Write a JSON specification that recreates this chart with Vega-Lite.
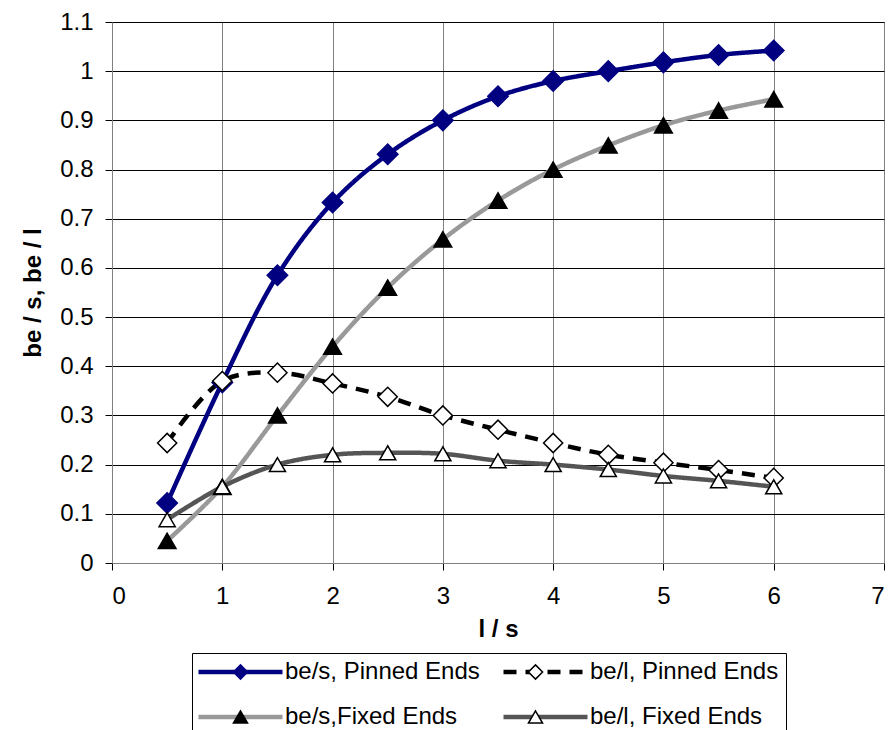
{
  "$schema": "https://vega.github.io/schema/vega-lite/v6.json",
  "autosize": {"type": "none"},
  "width": 772,
  "height": 541,
  "padding": {"left": 112, "top": 22, "right": 9, "bottom": 167},
  "background": "white",
  "config": {
    "font": "Liberation Sans",
    "view": {"stroke": "#808080", "strokeWidth": 1},
    "axis": {"labelFont": "Liberation Sans", "titleFont": "Liberation Sans", "labelFontSize": 24, "titleFontSize": 24, "titleFontWeight": "bold", "labelColor": "black", "titleColor": "black", "domainColor": "#808080", "tickColor": "black", "tickSize": 7}
  },
  "resolve": {"legend": {"shape": "independent", "fill": "independent", "stroke": "independent"}},
  "data": {"values": [
    {"l": 0.5, "v": 0.122, "series": "be/s, Pinned Ends", "k": 1},
    {"l": 1, "v": 0.367, "series": "be/s, Pinned Ends", "k": 1},
    {"l": 1.5, "v": 0.585, "series": "be/s, Pinned Ends", "k": 1},
    {"l": 2, "v": 0.733, "series": "be/s, Pinned Ends", "k": 1},
    {"l": 2.5, "v": 0.831, "series": "be/s, Pinned Ends", "k": 1},
    {"l": 3, "v": 0.9, "series": "be/s, Pinned Ends", "k": 1},
    {"l": 3.5, "v": 0.949, "series": "be/s, Pinned Ends", "k": 1},
    {"l": 4, "v": 0.98, "series": "be/s, Pinned Ends", "k": 1},
    {"l": 4.5, "v": 1.0, "series": "be/s, Pinned Ends", "k": 1},
    {"l": 5, "v": 1.018, "series": "be/s, Pinned Ends", "k": 1},
    {"l": 5.5, "v": 1.033, "series": "be/s, Pinned Ends", "k": 1},
    {"l": 6, "v": 1.042, "series": "be/s, Pinned Ends", "k": 1},
    {"l": 0.5, "v": 0.244, "series": "be/l, Pinned Ends", "k": 2},
    {"l": 1, "v": 0.37, "series": "be/l, Pinned Ends", "k": 2},
    {"l": 1.5, "v": 0.387, "series": "be/l, Pinned Ends", "k": 2},
    {"l": 2, "v": 0.365, "series": "be/l, Pinned Ends", "k": 2},
    {"l": 2.5, "v": 0.338, "series": "be/l, Pinned Ends", "k": 2},
    {"l": 3, "v": 0.3, "series": "be/l, Pinned Ends", "k": 2},
    {"l": 3.5, "v": 0.271, "series": "be/l, Pinned Ends", "k": 2},
    {"l": 4, "v": 0.244, "series": "be/l, Pinned Ends", "k": 2},
    {"l": 4.5, "v": 0.22, "series": "be/l, Pinned Ends", "k": 2},
    {"l": 5, "v": 0.204, "series": "be/l, Pinned Ends", "k": 2},
    {"l": 5.5, "v": 0.189, "series": "be/l, Pinned Ends", "k": 2},
    {"l": 6, "v": 0.173, "series": "be/l, Pinned Ends", "k": 2},
    {"l": 0.5, "v": 0.045, "series": "be/s,Fixed Ends", "k": 3},
    {"l": 1, "v": 0.155, "series": "be/s,Fixed Ends", "k": 3},
    {"l": 1.5, "v": 0.3, "series": "be/s,Fixed Ends", "k": 3},
    {"l": 2, "v": 0.44, "series": "be/s,Fixed Ends", "k": 3},
    {"l": 2.5, "v": 0.56, "series": "be/s,Fixed Ends", "k": 3},
    {"l": 3, "v": 0.658, "series": "be/s,Fixed Ends", "k": 3},
    {"l": 3.5, "v": 0.737, "series": "be/s,Fixed Ends", "k": 3},
    {"l": 4, "v": 0.8, "series": "be/s,Fixed Ends", "k": 3},
    {"l": 4.5, "v": 0.849, "series": "be/s,Fixed Ends", "k": 3},
    {"l": 5, "v": 0.89, "series": "be/s,Fixed Ends", "k": 3},
    {"l": 5.5, "v": 0.92, "series": "be/s,Fixed Ends", "k": 3},
    {"l": 6, "v": 0.943, "series": "be/s,Fixed Ends", "k": 3},
    {"l": 0.5, "v": 0.088, "series": "be/l, Fixed Ends", "k": 4},
    {"l": 1, "v": 0.155, "series": "be/l, Fixed Ends", "k": 4},
    {"l": 1.5, "v": 0.2, "series": "be/l, Fixed Ends", "k": 4},
    {"l": 2, "v": 0.22, "series": "be/l, Fixed Ends", "k": 4},
    {"l": 2.5, "v": 0.224, "series": "be/l, Fixed Ends", "k": 4},
    {"l": 3, "v": 0.222, "series": "be/l, Fixed Ends", "k": 4},
    {"l": 3.5, "v": 0.208, "series": "be/l, Fixed Ends", "k": 4},
    {"l": 4, "v": 0.2, "series": "be/l, Fixed Ends", "k": 4},
    {"l": 4.5, "v": 0.19, "series": "be/l, Fixed Ends", "k": 4},
    {"l": 5, "v": 0.177, "series": "be/l, Fixed Ends", "k": 4},
    {"l": 5.5, "v": 0.167, "series": "be/l, Fixed Ends", "k": 4},
    {"l": 6, "v": 0.155, "series": "be/l, Fixed Ends", "k": 4}
  ]},
  "encoding": {
    "x": {"field": "l", "type": "quantitative", "title": "l / s",
      "scale": {"domain": [0, 7], "nice": false, "zero": false},
      "axis": {"values": [0, 1, 2, 3, 4, 5, 6, 7], "format": "d", "grid": true, "gridColor": "#808080", "gridOpacity": 1, "labelPadding": 14, "titlePadding": 9}},
    "y": {"field": "v", "type": "quantitative", "title": "be / s, be / l",
      "scale": {"domain": [0, 1.1], "nice": false},
      "axis": {"values": [0, 0.1, 0.2, 0.3, 0.4, 0.5, 0.6, 0.7, 0.8, 0.9, 1, 1.1], "format": "~g", "grid": true, "gridColor": "black", "gridOpacity": 1, "labelPadding": 12, "titlePadding": 14}}
  },
  "layer": [
    {
      "mark": {"type": "line", "interpolate": "catmull-rom"},
      "encoding": {
        "color": {"field": "series", "type": "nominal", "sort": {"field": "k", "op": "min"},
          "scale": {"range": ["#000080", "black", "#999999", "#555555"]},
          "legend": {"title": null, "orient": "none", "legendX": 80, "legendY": 631, "direction": "horizontal", "columns": 2,
            "labelFontSize": 24, "labelFont": "Liberation Sans", "labelColor": "black", "labelLimit": 400,
            "symbolType": "M-5.94,0H5.94", "symbolSize": 200, "symbolOffset": 29.5, "labelOffset": 32.5,
            "columnPadding": 14, "rowPadding": 21, "padding": 7, "strokeColor": "black", "zindex": 0}},
        "strokeDash": {"field": "series", "type": "nominal", "sort": {"field": "k", "op": "min"},
          "scale": {"range": [[1, 0], [13, 9], [1, 0], [1, 0]]}},
        "strokeWidth": {"field": "series", "type": "nominal", "sort": {"field": "k", "op": "min"},
          "scale": {"range": [4.5, 4.5, 7, 6]}}
      }
    },
    {
      "mark": {"type": "point", "filled": false, "opacity": 1, "strokeWidth": 1.5},
      "encoding": {
        "shape": {"field": "series", "type": "nominal", "sort": {"field": "k", "op": "max"},
          "scale": {"range": ["diamond", "diamond", "triangle-up", "triangle-up"]},
          "legend": {"title": null, "orient": "none", "legendX": 80, "legendY": 631, "direction": "horizontal", "columns": 2,
            "labelFontSize": 24, "labelFont": "Liberation Sans", "labelOpacity": 0, "labelLimit": 400,
            "symbolSize": 200, "symbolOffset": 29.5, "labelOffset": 32.5, "symbolStrokeWidth": 1.5,
            "columnPadding": 14, "rowPadding": 21, "padding": 7, "zindex": 1,
            "encode": {"symbols": {"update": {"size": {"signal": "indexof(datum.value, 'Fixed') >= 0 ? 300 : 170"}}}}}},
        "fill": {"field": "series", "type": "nominal", "sort": {"field": "k", "op": "max"},
          "scale": {"range": ["#000080", "white", "black", "white"]}},
        "stroke": {"field": "series", "type": "nominal", "sort": {"field": "k", "op": "max"},
          "scale": {"range": ["#000080", "black", "black", "black"]}},
        "size": {"field": "k", "type": "ordinal",
          "scale": {"range": [420, 260, 620, 440]}, "legend": null}
      }
    }
  ]
}
